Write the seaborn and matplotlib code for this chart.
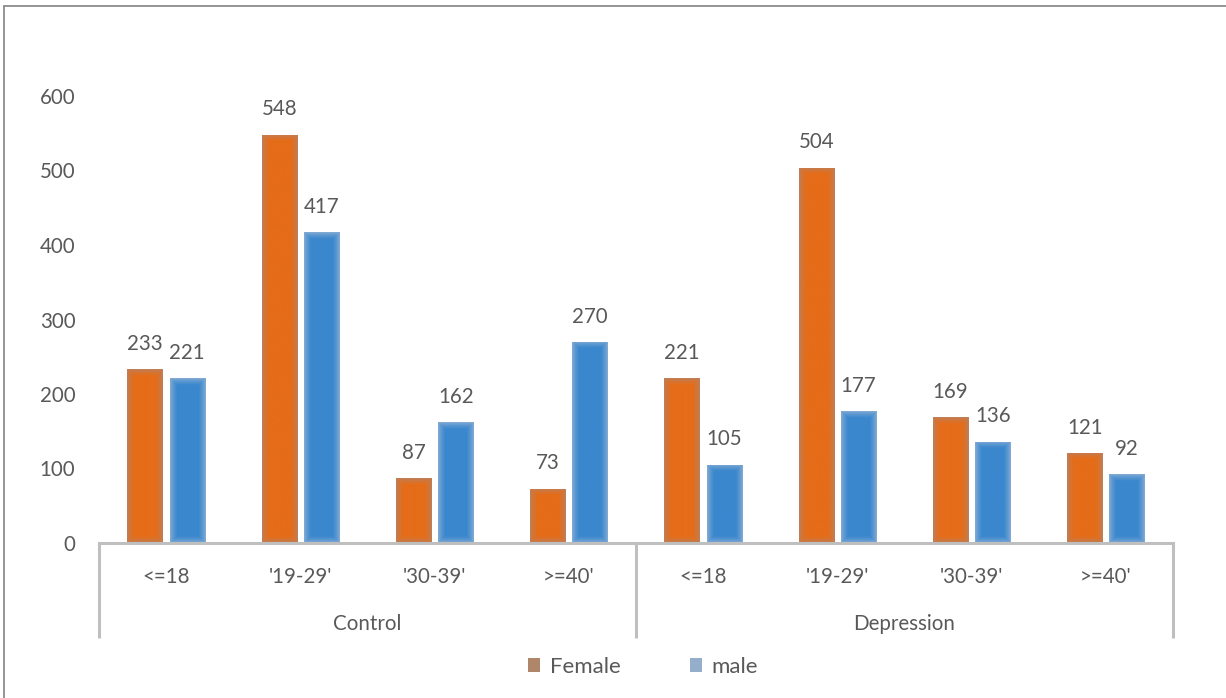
import numpy as np
import pandas as pd
import matplotlib
matplotlib.use("Agg")
import matplotlib.pyplot as plt
from matplotlib.lines import Line2D
from matplotlib.patches import Patch
from matplotlib.colors import to_rgb
import seaborn as sns

# ---- data -------------------------------------------------------------
groups = ["Control", "Depression"]
age_bands = ["<=18", "'19-29'", "'30-39'", ">=40'"]
female = [233, 548, 87, 73, 221, 504, 169, 121]
male = [221, 417, 162, 270, 105, 177, 136, 92]
sexes = ["Female", "male"]

rows = []
for i in range(len(female)):
    g = groups[i // len(age_bands)]
    a = age_bands[i % len(age_bands)]
    slot = f"{g}|{a}"
    rows.append({"slot": slot, "age": a, "group": g, "sex": "Female", "count": female[i]})
    rows.append({"slot": slot, "age": a, "group": g, "sex": "male", "count": male[i]})
df = pd.DataFrame(rows)
slot_order = list(dict.fromkeys(df["slot"]))

# ---- style ------------------------------------------------------------
sns.set_theme(style="white")
plt.rcParams["font.family"] = ["Lato", "DejaVu Sans"]
TEXT = "#595959"
AXIS = "#BFBFBF"
bar_center = {"Female": "#E56C18", "male": "#3A87CE"}
bar_edge = {"Female": "#B98262", "male": "#8DB0D4"}
legend_col = {"Female": "#B0866A", "male": "#94AECB"}
FS = 14.8

fig = plt.figure(figsize=(12.26, 6.98), dpi=100)
ax = fig.add_axes([99 / 1226, 1 - 543 / 698, (1173 - 99) / 1226, (543 - 96) / 698])

sns.barplot(data=df, x="slot", y="count", hue="sex", order=slot_order,
            hue_order=sexes, palette=bar_center, width=0.63, gap=0.17,
            errorbar=None, legend=False, ax=ax, linewidth=0)

ax.set_xlim(-0.5, len(slot_order) - 0.5)
ax.set_ylim(0, 600)
ax.set_yticks(np.arange(0, 601, 100))
ax.set_xlabel("")
ax.set_ylabel("")
ax.tick_params(axis="y", length=0, pad=17, labelsize=FS, labelcolor=TEXT)
ax.tick_params(axis="x", length=0, pad=17, labelsize=FS, labelcolor=TEXT)
ax.set_xticks(range(len(slot_order)))
ax.set_xticklabels([s.split("|")[1] for s in slot_order])
for side in ["top", "right", "left"]:
    ax.spines[side].set_visible(False)
ax.spines["bottom"].set_color(AXIS)
ax.spines["bottom"].set_linewidth(2.2)
ax.spines["bottom"].set_zorder(5)

# soft shaded fill inside each bar, clipped to the bar shape
fig.canvas.draw()
edge_px = 7.0
for container, sex in zip(ax.containers, sexes):
    c_in = np.array(to_rgb(bar_center[sex]))
    c_out = np.array(to_rgb(bar_edge[sex]))
    for patch, val in zip(container.patches, container.datavalues):
        x0, y0 = patch.get_x(), patch.get_y()
        w, h = patch.get_width(), patch.get_height()
        (px0, py0), (px1, py1) = ax.transData.transform([(x0, y0), (x0 + w, y0 + h)])
        nw, nh = max(int(round(px1 - px0)), 2), max(int(round(py1 - py0)), 2)
        xs = np.arange(nw) + 0.5
        ys = np.arange(nh) + 0.5
        dx = np.minimum(xs, nw - xs)[None, :]
        dy = np.minimum(ys, nh - ys)[:, None]
        d = np.minimum(dx, dy)
        t = np.clip(d / edge_px, 0, 1) ** 0.7
        img = c_out[None, None, :] * (1 - t[..., None]) + c_in[None, None, :] * t[..., None]
        im = ax.imshow(img, extent=(x0, x0 + w, y0, y0 + h), origin="lower",
                       aspect="auto", interpolation="bilinear", zorder=patch.get_zorder() + 0.1)
        im.set_clip_path(patch)
        ax.annotate(f"{int(val)}", (x0 + w / 2, y0 + h), xytext=(0, 11),
                    textcoords="offset points", ha="center", va="bottom",
                    fontsize=FS, color=TEXT)
ax.set_xlim(-0.5, len(slot_order) - 0.5)
ax.set_ylim(0, 600)

# two-level category axis: group separators and group names
sep_kw = dict(color=AXIS, lw=2.2, clip_on=False, transform=ax.get_xaxis_transform(),
              solid_capstyle="butt")
drop = -(638 - 543) / (543 - 96)
for xs in [-0.5, 3.5, 7.5]:
    ax.plot([xs, xs], [0, drop], **sep_kw)
for gi, g in enumerate(groups):
    ax.text(gi * 4 + 1.5, -(624 - 543) / (543 - 96), g, transform=ax.get_xaxis_transform(),
            ha="center", va="center", fontsize=FS, color=TEXT)

# legend
handles = [Patch(facecolor=legend_col[s], edgecolor="none", label=s) for s in sexes]
fig.legend(handles=handles, loc="center", bbox_to_anchor=(643 / 1226, 1 - 667 / 698),
           ncol=2, frameon=False, fontsize=16, labelcolor=TEXT,
           handlelength=0.55, handleheight=0.55, handletextpad=0.45, columnspacing=3.1)

# chart frame lines
fig.add_artist(Line2D([4 / 1226, 1], [1 - 6 / 698] * 2, color="#8C8C8C", lw=1.3,
                      transform=fig.transFigure))
fig.add_artist(Line2D([4 / 1226] * 2, [0, 1 - 6 / 698], color="#8C8C8C", lw=1.3,
                      transform=fig.transFigure))

fig.savefig("out.png", dpi=100, facecolor="white")
